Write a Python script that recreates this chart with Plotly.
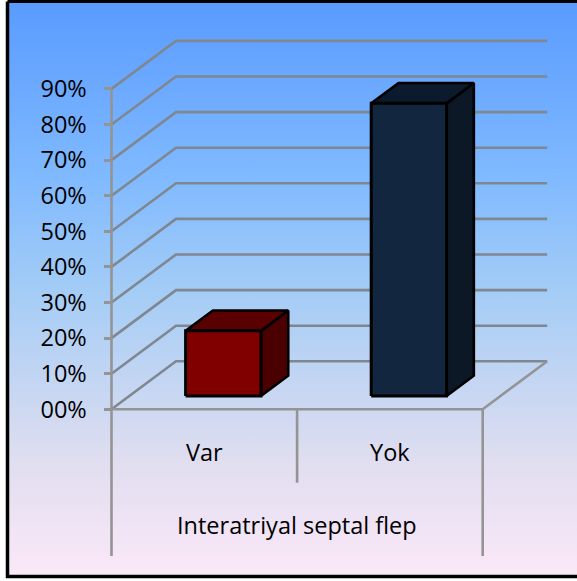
import plotly.graph_objects as go

# ---- data ----
categories = ["Var", "Yok"]
values = [18.3, 82.2]
front_colors = ["#800000", "#122640"]
top_colors = ["#5a0000", "#0b1a2c"]
side_colors = ["#4a0000", "#0c1825"]
y_ticks = [0, 10, 20, 30, 40, 50, 60, 70, 80, 90]
y_tick_labels = ["00%", "10%", "20%", "30%", "40%", "50%", "60%", "70%", "80%", "90%"]
group_title = "Interatriyal septal flep"

# ---- layout constants ----
W, H = 577, 581
PX_PER_CAT = 185.6
PX_PER_PCT = 3.56
X0_PX, Y0_PX = 111.5, 409.3
DEPTH_X = 64.5 / PX_PER_CAT     # category units per full depth
DEPTH_Y = 48.0 / PX_PER_PCT     # percent units per full depth
BAR_LEFT, BAR_W = 0.303, 0.406
BAR_D0, BAR_D1 = 0.277, 0.70
GRID = "#7f8791"
AXIS = "#949494"
FONT = "Open Sans"
FS = 23.5

xr = [-X0_PX / PX_PER_CAT, (W - X0_PX) / PX_PER_CAT]
yr = [-(H - Y0_PX) / PX_PER_PCT, Y0_PX / PX_PER_PCT]


def px2x(p):
    return (p - X0_PX) / PX_PER_CAT


def px2y(p):
    return (Y0_PX - p) / PX_PER_PCT


def proj(c, v, d=0.0):
    return c + d * DEPTH_X, v + d * DEPTH_Y


def poly(points, fill=None, line=None, lw=2.6):
    xs = [p[0] for p in points]
    ys = [p[1] for p in points]
    kw = dict(x=xs, y=ys, mode="lines", hoverinfo="skip", showlegend=False,
              line=dict(color=line or "rgba(0,0,0,0)", width=lw))
    if fill:
        kw.update(fill="toself", fillcolor=fill)
    return go.Scatter(**kw)


fig = go.Figure()

# page background gradient
fig.add_trace(go.Scatter(
    x=[px2x(9), px2x(W + 2), px2x(W + 2), px2x(9), px2x(9)],
    y=[px2y(3), px2y(3), px2y(576), px2y(576), px2y(3)],
    mode="lines", fill="toself", line=dict(width=0), hoverinfo="skip", showlegend=False,
    fillgradient=dict(type="vertical", colorscale=[
        [0.0, "#fbe8f8"], [0.20, "#e0deF0"], [0.50, "#a3ccf6"],
        [0.70, "#7fb9ff"], [1.0, "#5a9bff"]]),
))

# frame
frame = [(px2x(7.5), px2y(1.5)), (px2x(W + 5), px2y(1.5))]
fig.add_trace(poly(frame, line="#000000", lw=3))
frame = [(px2x(7.5), px2y(1.5)), (px2x(7.5), px2y(576.5)), (px2x(W + 5), px2y(576.5))]
fig.add_trace(poly(frame, line="#000000", lw=3.5))

# wall gridlines
for v in y_ticks:
    pts = [proj(0, v), proj(0, v, 1), proj(2, v, 1)]
    fig.add_trace(poly(pts, line=GRID))

# floor front and side
fig.add_trace(poly([proj(0, 0), proj(2, 0), proj(2, 0, 1)], line=AXIS))

# axis verticals
bottom = px2y(556)
mid_bottom = px2y(482.7)
fig.add_trace(poly([(0, y_ticks[-1]), (0, bottom)], line=AXIS))
fig.add_trace(poly([(1, 0), (1, mid_bottom)], line=AXIS))
fig.add_trace(poly([(2, 0), (2, bottom)], line=AXIS))

# bars
for i, val in enumerate(values):
    l, r = i + BAR_LEFT, i + BAR_LEFT + BAR_W
    fig.add_trace(poly([proj(r, 0, BAR_D0), proj(r, 0, BAR_D1), proj(r, val, BAR_D1),
                        proj(r, val, BAR_D0), proj(r, 0, BAR_D0)],
                       fill=side_colors[i], line="#000000"))
    fig.add_trace(poly([proj(l, val, BAR_D0), proj(r, val, BAR_D0), proj(r, val, BAR_D1),
                        proj(l, val, BAR_D1), proj(l, val, BAR_D0)],
                       fill=top_colors[i], line="#000000"))
    fig.add_trace(poly([proj(l, 0, BAR_D0), proj(r, 0, BAR_D0), proj(r, val, BAR_D0),
                        proj(l, val, BAR_D0), proj(l, 0, BAR_D0)],
                       fill=front_colors[i], line="#000000", lw=3))

# category labels
annotations = []
for i, c in enumerate(categories):
    annotations.append(dict(x=i + 0.5, y=px2y(452), text=c, showarrow=False,
                            xanchor="center", yanchor="middle",
                            font=dict(family=FONT, size=FS, color="#000000")))
annotations.append(dict(x=1.0, y=px2y(525), text=group_title, showarrow=False,
                        xanchor="center", yanchor="middle",
                        font=dict(family=FONT, size=FS, color="#000000")))

fig.update_layout(
    width=W, height=H, margin=dict(l=0, r=0, t=0, b=0, pad=0),
    paper_bgcolor="#ffffff", plot_bgcolor="rgba(0,0,0,0)",
    showlegend=False, annotations=annotations,
    xaxis=dict(range=xr, visible=False, fixedrange=True, domain=[0, 1]),
    yaxis=dict(range=yr, anchor="free", position=X0_PX / W, side="left",
               tickmode="array", tickvals=y_ticks, ticktext=y_tick_labels,
               ticks="outside", ticklen=8, tickwidth=2.5, tickcolor=AXIS,
               showgrid=False, zeroline=False, showline=False, fixedrange=True,
               ticklabelstandoff=12,
               tickfont=dict(family=FONT, size=FS, color="#000000")),
)
fig.write_html("out.html", config={"displayModeBar": False},
               post_script="document.body.style.margin='0';document.documentElement.style.overflow='hidden';")
